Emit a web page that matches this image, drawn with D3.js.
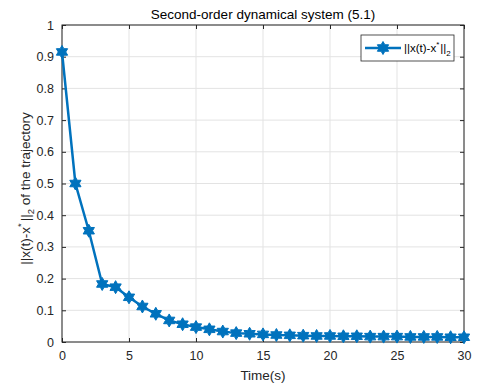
<!DOCTYPE html>
<html>
<head>
<meta charset="utf-8">
<script src="https://cdn.jsdelivr.net/npm/d3@7"></script>
<style>
  body { margin: 0; background: #fff; }
  svg { font-family: "Liberation Sans", Arial, sans-serif; }
</style>
</head>
<body>
<div id="chart"></div>
<script>
const times = d3.range(0, 31);
const errNorm = [0.915, 0.500, 0.351, 0.183, 0.173, 0.141, 0.112, 0.089, 0.068, 0.056,
  0.047, 0.040, 0.033, 0.028, 0.026, 0.024, 0.022, 0.021, 0.020, 0.019,
  0.019, 0.018, 0.018, 0.017, 0.017, 0.017, 0.016, 0.016, 0.016, 0.015, 0.015];
const xTicks = [0, 5, 10, 15, 20, 25, 30];
const yTicks = [0, 0.1, 0.2, 0.3, 0.4, 0.5, 0.6, 0.7, 0.8, 0.9, 1];

const W = 477, H = 387;
const margin = {top: 25, left: 62, right: 13, bottom: 45};
const iw = W - margin.left - margin.right;
const ih = H - margin.top - margin.bottom;
const blue = '#0072BD';
const axisColor = '#262626';

const svg = d3.select('#chart').append('svg')
  .attr('width', W).attr('height', H);

const x = d3.scaleLinear().domain([0, 30]).range([0, iw]);
const y = d3.scaleLinear().domain([0, 1]).range([ih, 0]);

const g = svg.append('g')
  .attr('transform', `translate(${margin.left},${margin.top})`);

// grid
g.append('g').selectAll('line').data(xTicks).join('line')
  .attr('x1', d => x(d)).attr('x2', d => x(d))
  .attr('y1', 0).attr('y2', ih)
  .attr('stroke', '#e3e3e3').attr('stroke-width', 1);
g.append('g').selectAll('line').data(yTicks).join('line')
  .attr('x1', 0).attr('x2', iw)
  .attr('y1', d => y(d)).attr('y2', d => y(d))
  .attr('stroke', '#e3e3e3').attr('stroke-width', 1);

// axes (ticks inside)
const styleAxis = (sel) => {
  sel.select('.domain').remove();
  sel.selectAll('.tick line').attr('stroke', axisColor);
  sel.selectAll('.tick text').attr('fill', axisColor).style('font-size', '12.5px');
};
g.append('g').attr('transform', `translate(0,${ih})`)
  .call(d3.axisBottom(x).tickValues(xTicks).tickSizeInner(-4).tickPadding(9).tickSizeOuter(0))
  .call(styleAxis);
g.append('g')
  .call(d3.axisLeft(y).tickValues(yTicks).tickFormat(d3.format('~g')).tickSizeInner(-4).tickPadding(8).tickSizeOuter(0))
  .call(styleAxis);
g.append('g')
  .call(d3.axisTop(x).tickValues(xTicks).tickSizeInner(-4).tickFormat('').tickSizeOuter(0))
  .call(styleAxis);
g.append('g').attr('transform', `translate(${iw},0)`)
  .call(d3.axisRight(y).tickValues(yTicks).tickSizeInner(-4).tickFormat('').tickSizeOuter(0))
  .call(styleAxis);

g.append('rect').attr('width', iw).attr('height', ih)
  .attr('fill', 'none').attr('stroke', axisColor).attr('stroke-width', 1);

// hexagram marker
const hexagram = (r) => {
  const pts = [];
  const ri = r / Math.sqrt(3);
  for (let i = 0; i < 12; i++) {
    const a = Math.PI / 2 + i * Math.PI / 6;
    const rr = i % 2 === 0 ? r : ri;
    pts.push([rr * Math.cos(a), -rr * Math.sin(a)]);
  }
  return 'M' + pts.map(p => p.join(',')).join('L') + 'Z';
};

const pts = times.map((t, i) => ({t, v: errNorm[i]}));
g.append('path').datum(pts)
  .attr('fill', 'none').attr('stroke', blue).attr('stroke-width', 2.5)
  .attr('d', d3.line().x(d => x(d.t)).y(d => y(d.v)));
g.append('g').selectAll('path').data(pts).join('path')
  .attr('transform', d => `translate(${x(d.t)},${y(d.v)})`)
  .attr('d', hexagram(6.5))
  .attr('fill', blue).attr('stroke', blue).attr('stroke-width', 1);

// title and labels
svg.append('text').attr('x', margin.left + iw / 2).attr('y', 19)
  .attr('text-anchor', 'middle').attr('fill', '#000')
  .style('font-size', '13.5px')
  .text('Second-order dynamical system (5.1)');

svg.append('text').attr('x', margin.left + iw / 2).attr('y', 380)
  .attr('text-anchor', 'middle').attr('fill', axisColor)
  .style('font-size', '13.5px')
  .text('Time(s)');

const yl = svg.append('text')
  .attr('transform', `translate(30,${margin.top + ih / 2 + 5}) rotate(-90)`)
  .attr('text-anchor', 'middle').attr('fill', axisColor)
  .style('font-size', '13.5px');
yl.append('tspan').text('||x(t)-x');
yl.append('tspan').attr('dy', -6).style('font-size', '9.5px').text('*');
yl.append('tspan').attr('dx', 2).attr('dy', 6).text('||');
yl.append('tspan').attr('dy', 4).style('font-size', '9.5px').text('2');
yl.append('tspan').attr('dy', -4).text(' of the trajectory');

// legend
const lg = svg.append('g').attr('transform', 'translate(361,35)');
lg.append('rect').attr('width', 93).attr('height', 26)
  .attr('fill', '#fff').attr('stroke', axisColor).attr('stroke-width', 0.8);
lg.append('line').attr('x1', 4).attr('x2', 40).attr('y1', 13).attr('y2', 13)
  .attr('stroke', blue).attr('stroke-width', 2.5);
lg.append('path').attr('transform', 'translate(22,13)')
  .attr('d', hexagram(6.5)).attr('fill', blue).attr('stroke', blue);
const lt = lg.append('text').attr('x', 43).attr('y', 17).attr('fill', '#000')
  .style('font-size', '11.5px');
lt.append('tspan').text('||x(t)-x');
lt.append('tspan').attr('dy', -5).style('font-size', '8px').text('*');
lt.append('tspan').attr('dx', 1).attr('dy', 5).text('||');
lt.append('tspan').attr('dy', 4).style('font-size', '8px').text('2');
</script>
</body>
</html>
